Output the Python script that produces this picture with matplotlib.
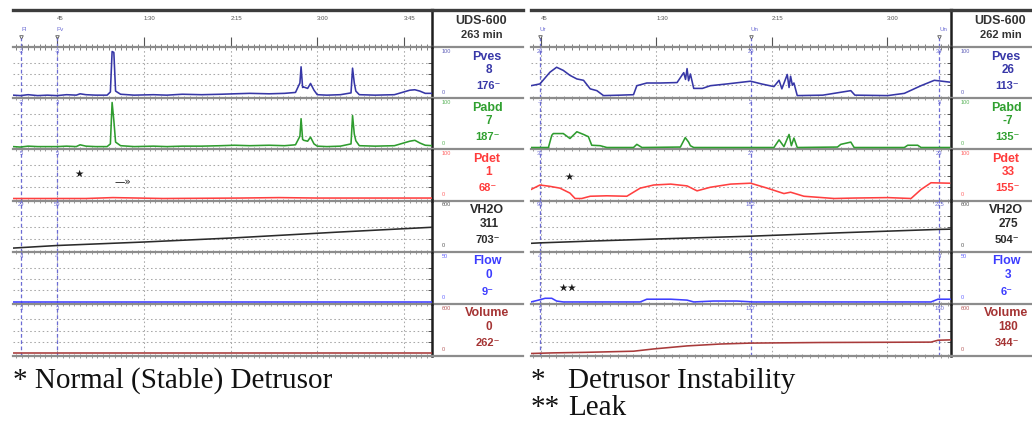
"""
Urodynamic traces — stable vs unstable detrusor (two UDS-600 studies side by side)
Outputs: out.png
"""
import matplotlib
matplotlib.use("Agg")
import matplotlib.pyplot as plt
from matplotlib.ticker import FixedLocator, MultipleLocator, NullFormatter

W, H = 1032, 423
plt.rcParams["font.family"] = ["Liberation Sans", "DejaVu Sans"]

# ── Channels ──────────────────────────────────────────────────────────────────
channels    = ["Pves", "Pabd", "Pdet", "VH2O", "Flow", "Volume"]
full_scale  = [100, 100, 100, 600, 50, 600]
trace_color = ["#3636a6", "#2e9c2e", "#ff4040", "#2b2b2b", "#3f3fff", "#a83a3a"]
label_color = ["#3838a8", "#30a030", "#ff3c3c", "#2b2b2b", "#3c3cff", "#a53434"]
EV_COLOR = "#6c6cd4"

# ── Left study: stable detrusor (minutes, value) ──────────────────────────────
L_pves_t = [22.2, 26, 30, 35, 40, 45, 50, 55, 57, 60, 65, 71, 72.7, 73.6, 74.5, 75.4, 78, 85,
            95, 102, 110, 120, 130, 137, 145, 155, 163, 168.7, 171, 171.6, 172.4, 173, 175,
            176.5, 178.3, 180, 185, 192, 197.5, 198.3, 199.2, 200, 201.8, 210, 220, 228,
            230.6, 233.2, 236, 239.5]
L_pves_v = [3, 2, 4, 2, 3, 2, 4, 3, 6, 4, 3, 3, 10, 100, 98, 12, 5, 3,
            4, 3, 5, 4, 5, 6, 7, 6, 7, 9, 30, 66, 20, 21, 18,
            29, 14, 4, 3, 4, 8, 63, 30, 12, 4, 3, 4, 14,
            15, 12, 7, 7]
L_pabd_t = L_pves_t
L_pabd_v = [2, 1, 3, 2, 2, 2, 3, 2, 6, 3, 2, 2, 8, 100, 60, 12, 4, 2,
            3, 2, 3, 3, 4, 5, 4, 5, 4, 6, 25, 64, 18, 16, 14,
            23, 8, 3, 2, 3, 8, 71, 30, 15, 4, 3, 4, 14,
            16, 10, 5, 4]
L_pdet_t = [22.2, 60, 74, 100, 140, 160, 180, 200, 239.5]
L_pdet_v = [0, 0, 2, 0, 1, 2, 1, 1, 1]
L_vh2o_t = [22.2, 45, 90, 137, 190, 239.5]
L_vh2o_v = [25, 59, 105, 160, 235, 300]
L_flow_t = [22.2, 239.5]
L_flow_v = [0, 0]
L_vol_t  = [22.2, 239.5]
L_vol_v  = [0, 0]
L_readout = ["8", "7", "1", "311", "0", "0"]
L_peak    = ["176", "187", "68", "703", "9", "262"]
L_events  = ["Fl", "Pv"]
L_ev_time = [26.5, 45]
L_ev_vals = [["-2", "-2", "5", "29", "4", "3"],
             ["-3", "3", "5", "59", "4", "3"]]

# ── Right study: detrusor instability + leak ──────────────────────────────────
R_pves_t = [41.1, 44.6, 48.5, 51.1, 53.7, 56.3, 59, 61.6, 64.2, 66.8, 69.4, 75.9, 81.1, 82.4,
            86.3, 91.6, 98.1, 100.7, 101.4, 102, 102.6, 103.3, 104.6, 108, 111.1, 117.7, 126.8,
            131, 135.9, 137.9, 139, 141.1, 141.8, 142.4, 143.1, 143.7, 145, 155, 165.9, 167.5,
            180.3, 186.8, 193.3, 198.5, 204.4]
R_pves_v = [24, 28, 54, 65, 58, 47, 39, 36, 17, 13, 2, 3, 4, 24,
            30, 30, 31, 53, 38, 62, 35, 50, 18, 18, 24, 28, 34,
            28, 22, 36, 17, 49, 20, 45, 25, 30, 2, 3, 13, 3,
            2, 7, 24, 36, 32]
R_pabd_t = [41.1, 47.9, 49.2, 49.8, 53.7, 56.3, 59, 61.6, 63.5, 64.8, 68.1, 70.7, 81.1, 82.4,
            84.4, 99.4, 101.3, 102.6, 103.3, 104.6, 135.9, 137.9, 139.8, 141.8, 142.7, 143.7,
            145, 160.7, 162, 165.9, 167.2, 186.8, 188.1, 192, 193.3, 204.4]
R_pabd_v = [0, 0, 27, 31, 31, 20, 35, 29, 24, 5, 4, 0, 0, 7,
            0, 1, 22, 12, 4, 0, 0, 17, 2, 29, 4, 21,
            0, 1, 7, 12, 0, 0, 5, 5, 0, 0]
R_pdet_t = [41.1, 44.6, 48.5, 52.4, 56.3, 58.3, 60.9, 64.2, 70.7, 78.5, 83.7, 89, 95.6, 102,
            105.9, 111.1, 119, 126.8, 133.3, 139.8, 142.4, 147.6, 159.4, 167.2, 180.3, 189.4,
            193.3, 197.2, 204.4]
R_pdet_v = [20, 30, 27, 23, 12, 0, 0, 5, 6, 5, 23, 30, 32, 28,
            17, 25, 32, 34, 23, 11, 14, 5, 0, 1, 2, 0,
            20, 35, 34]
R_vh2o_t = [41.1, 44.6, 65, 90, 126.8, 160, 200.5, 205]
R_vh2o_v = [88, 94, 118, 145, 182, 225, 272, 275]
R_flow_t = [41.1, 44, 46.6, 49.2, 51.1, 53.7, 83.7, 86.3, 95.6, 102, 104.6, 112.2, 121.4,
            127.9, 197.2, 199.9, 205]
R_flow_v = [0, 2, 4, 4, 1, 0, 0, 3, 3, 2, 0, 1, 1, 0, 0, 3, 3]
R_vol_t  = [41.1, 49.8, 62.3, 81.1, 89, 102, 115, 126.8, 154.2, 197.2, 199.9, 205]
R_vol_v  = [0, 8, 15, 30, 60, 100, 125, 137, 145, 150, 175, 180]
R_readout = ["26", "-7", "33", "275", "3", "180"]
R_peak    = ["113", "135", "155", "504", "6", "344"]
R_events  = ["Ur", "Un", "Un"]
R_ev_time = [44.6, 126.8, 200.5]
R_ev_vals = [["24", "-7", "31", "94", "4", "5"],
             ["29", "2", "27", "182", "2", "137"],
             ["34", "5", "29", "275", "4", "180"]]

# ── Panel layout (pixels) ─────────────────────────────────────────────────────
TOP = 10
STRIPS = [47.5, 98.5, 149.5, 200.5, 252, 304, 355.5]

panels = [
    dict(x0=13, xv=432, x1=523, t_range=(22.2, 239.5), majors=[45, 90, 135, 180, 225],
         traces=[(L_pves_t, L_pves_v), (L_pabd_t, L_pabd_v), (L_pdet_t, L_pdet_v),
                 (L_vh2o_t, L_vh2o_v), (L_flow_t, L_flow_v), (L_vol_t, L_vol_v)],
         readout=L_readout, peak=L_peak, duration="263 min",
         events=L_events, ev_time=L_ev_time, ev_vals=L_ev_vals,
         notes=[(2, 56.4, 54, "\u2605"), (2, 79, 38, "\u2014\u00bb")]),
    dict(x0=531, xv=951, x1=1032, t_range=(41.1, 205.0), majors=[45, 90, 135, 180],
         traces=[(R_pves_t, R_pves_v), (R_pabd_t, R_pabd_v), (R_pdet_t, R_pdet_v),
                 (R_vh2o_t, R_vh2o_v), (R_flow_t, R_flow_v), (R_vol_t, R_vol_v)],
         readout=R_readout, peak=R_peak, duration="262 min",
         events=R_events, ev_time=R_ev_time, ev_vals=R_ev_vals,
         notes=[(2, 55.9, 48, "\u2605"), (4, 55.5, 15.5, "\u2605\u2605")]),
]


def box(x0, y0, x1, y1):
    return [x0 / W, 1 - y1 / H, (x1 - x0) / W, (y1 - y0) / H]


def fmt_time(m):
    return str(m) if m < 60 else f"{m // 60}:{m % 60:02d}"


def new_axes(fig, rect):
    ax = fig.add_axes(rect)
    ax.patch.set_alpha(0)
    return ax


def draw_panel(fig, p):
    t0, t1 = p["t_range"]
    colw = p["x1"] - p["xv"]

    # header with time scale
    hd = new_axes(fig, box(p["x0"], TOP, p["xv"], STRIPS[0]))
    hd.set_xlim(t0, t1)
    hd.set_ylim(0, 1)
    hd.set_yticks([])
    hd.spines["left"].set_visible(False)
    hd.spines["top"].set(color="#3c3c3c", linewidth=2.4)
    hd.spines["bottom"].set(color="#8c8c8c", linewidth=1.6)
    hd.spines["right"].set(color="#1e1e1e", linewidth=1.8)
    hd.xaxis.set_major_locator(FixedLocator(p["majors"]))
    hd.xaxis.set_minor_locator(MultipleLocator(3))
    hd.xaxis.set_major_formatter(NullFormatter())
    hd.tick_params(axis="x", which="major", direction="in", length=7, width=0.8, color="#555555")
    hd.tick_params(axis="x", which="minor", direction="inout", length=4, width=0.6, color="#6a6a6a")
    for m in p["majors"]:
        hd.text(m, 0.76, fmt_time(m), fontsize=4.3, color="#555555", ha="left", va="center")
    for name, te in zip(p["events"], p["ev_time"]):
        hd.text(te, 0.48, name, fontsize=4.5, color=EV_COLOR, ha="left", va="center")
        hd.plot([te], [0.28], marker="v", ms=2.6, color="#555555", mfc="none", mew=0.6)
        hd.axvline(te, ymax=0.24, color=EV_COLOR, lw=0.9, ls=(0, (3, 2)))

    hl = new_axes(fig, box(p["xv"], TOP, p["x1"], STRIPS[0]))
    hl.set_xlim(0, 1)
    hl.set_ylim(0, 1)
    hl.set_xticks([])
    hl.set_yticks([])
    for s in ["left", "right"]:
        hl.spines[s].set_visible(False)
    hl.spines["top"].set(color="#3c3c3c", linewidth=2.4)
    hl.spines["bottom"].set(color="#8c8c8c", linewidth=1.6)
    hl.text(49 / colw, 0.7, "UDS-600", fontsize=9, fontweight="bold", color="#333333",
            ha="center", va="center")
    hl.text(50 / colw, 0.33, p["duration"], fontsize=8, fontweight="bold", color="#333333",
            ha="center", va="center")

    # channel strips
    for i, ch in enumerate(channels):
        yt, yb = STRIPS[i], STRIPS[i + 1]
        fs = full_scale[i]
        ax = new_axes(fig, box(p["x0"], yt, p["xv"], yb))
        ax.set_xlim(t0, t1)
        ax.set_ylim(-fs * 2 / 45, fs * 49 / 45)
        ax.xaxis.set_major_locator(FixedLocator(p["majors"]))
        ax.xaxis.set_minor_locator(MultipleLocator(3))
        ax.yaxis.set_major_locator(FixedLocator([fs * 0.25, fs * 0.5, fs * 0.75]))
        ax.grid(True, which="major", color="#a8a8a8", lw=0.75, ls=(0, (1.5, 2.5)))
        ax.tick_params(labelbottom=False, labelleft=False)
        ax.tick_params(axis="x", which="both", direction="inout", length=3, width=0.6,
                       color="#8a8a8a")
        ax.tick_params(axis="y", left=False, right=True, direction="in", length=3,
                       width=0.7, color="#555555")
        for s in ["top", "left"]:
            ax.spines[s].set_visible(False)
        ax.spines["right"].set(color="#1e1e1e", linewidth=1.8)
        ax.spines["bottom"].set(color="#8c8c8c", linewidth=1.6)

        tt, vv = p["traces"][i]
        ax.plot(tt, vv, color=trace_color[i], lw=1.15, zorder=3)

        for te, vals in zip(p["ev_time"], p["ev_vals"]):
            ax.axvline(te, color=EV_COLOR, lw=0.9, ls=(0, (3, 2)), zorder=2)
            ax.text(te, 0.97, vals[i], transform=ax.get_xaxis_transform(), fontsize=4.2,
                    color=EV_COLOR, ha="center", va="top", zorder=4)

        for k, tx, vy, txt in p["notes"]:
            if k == i:
                ax.text(tx, vy, txt, fontsize=7.5, color="#1a1a1a", ha="center",
                        va="center", family=["DejaVu Sans"], zorder=5)

        lc = new_axes(fig, box(p["xv"], yt, p["x1"], yb))
        lc.set_xlim(0, 1)
        lc.set_ylim(0, 1)
        lc.set_xticks([])
        lc.set_yticks([])
        for s in ["top", "left", "right"]:
            lc.spines[s].set_visible(False)
        lc.spines["bottom"].set(color="#8c8c8c", linewidth=1.6)
        lc.text(10 / colw, 0.92, str(fs), fontsize=4, color=label_color[i], alpha=0.8,
                ha="left", va="center")
        lc.text(10 / colw, 0.12, "0", fontsize=4, color=label_color[i], alpha=0.8,
                ha="left", va="center")
        lc.text(55 / colw, 0.82, ch, fontsize=9, fontweight="bold", color=label_color[i],
                ha="center", va="center")
        lc.text(57 / colw, 0.55, p["readout"][i], fontsize=8.5, fontweight="bold",
                color=label_color[i], ha="center", va="center")
        lc.text(56 / colw, 0.24, p["peak"][i] + "\u207b", fontsize=8, fontweight="bold",
                color=label_color[i], ha="center", va="center")


fig = plt.figure(figsize=(W / 100, H / 100), dpi=100)
fig.patch.set_facecolor("white")
for p in panels:
    draw_panel(fig, p)

serif = dict(family=["Liberation Serif", "DejaVu Serif"], fontsize=21, color="#111111",
             va="baseline", ha="left")
fig.text(13 / W, 1 - 388 / H, "* Normal (Stable) Detrusor", **serif)
fig.text(531 / W, 1 - 388 / H, "*", **serif)
fig.text(568 / W, 1 - 388 / H, "Detrusor Instability", **serif)
fig.text(531 / W, 1 - 415 / H, "**", **serif)
fig.text(568 / W, 1 - 415 / H, "Leak", **serif)

fig.savefig("out.png", dpi=100)
plt.close(fig)
